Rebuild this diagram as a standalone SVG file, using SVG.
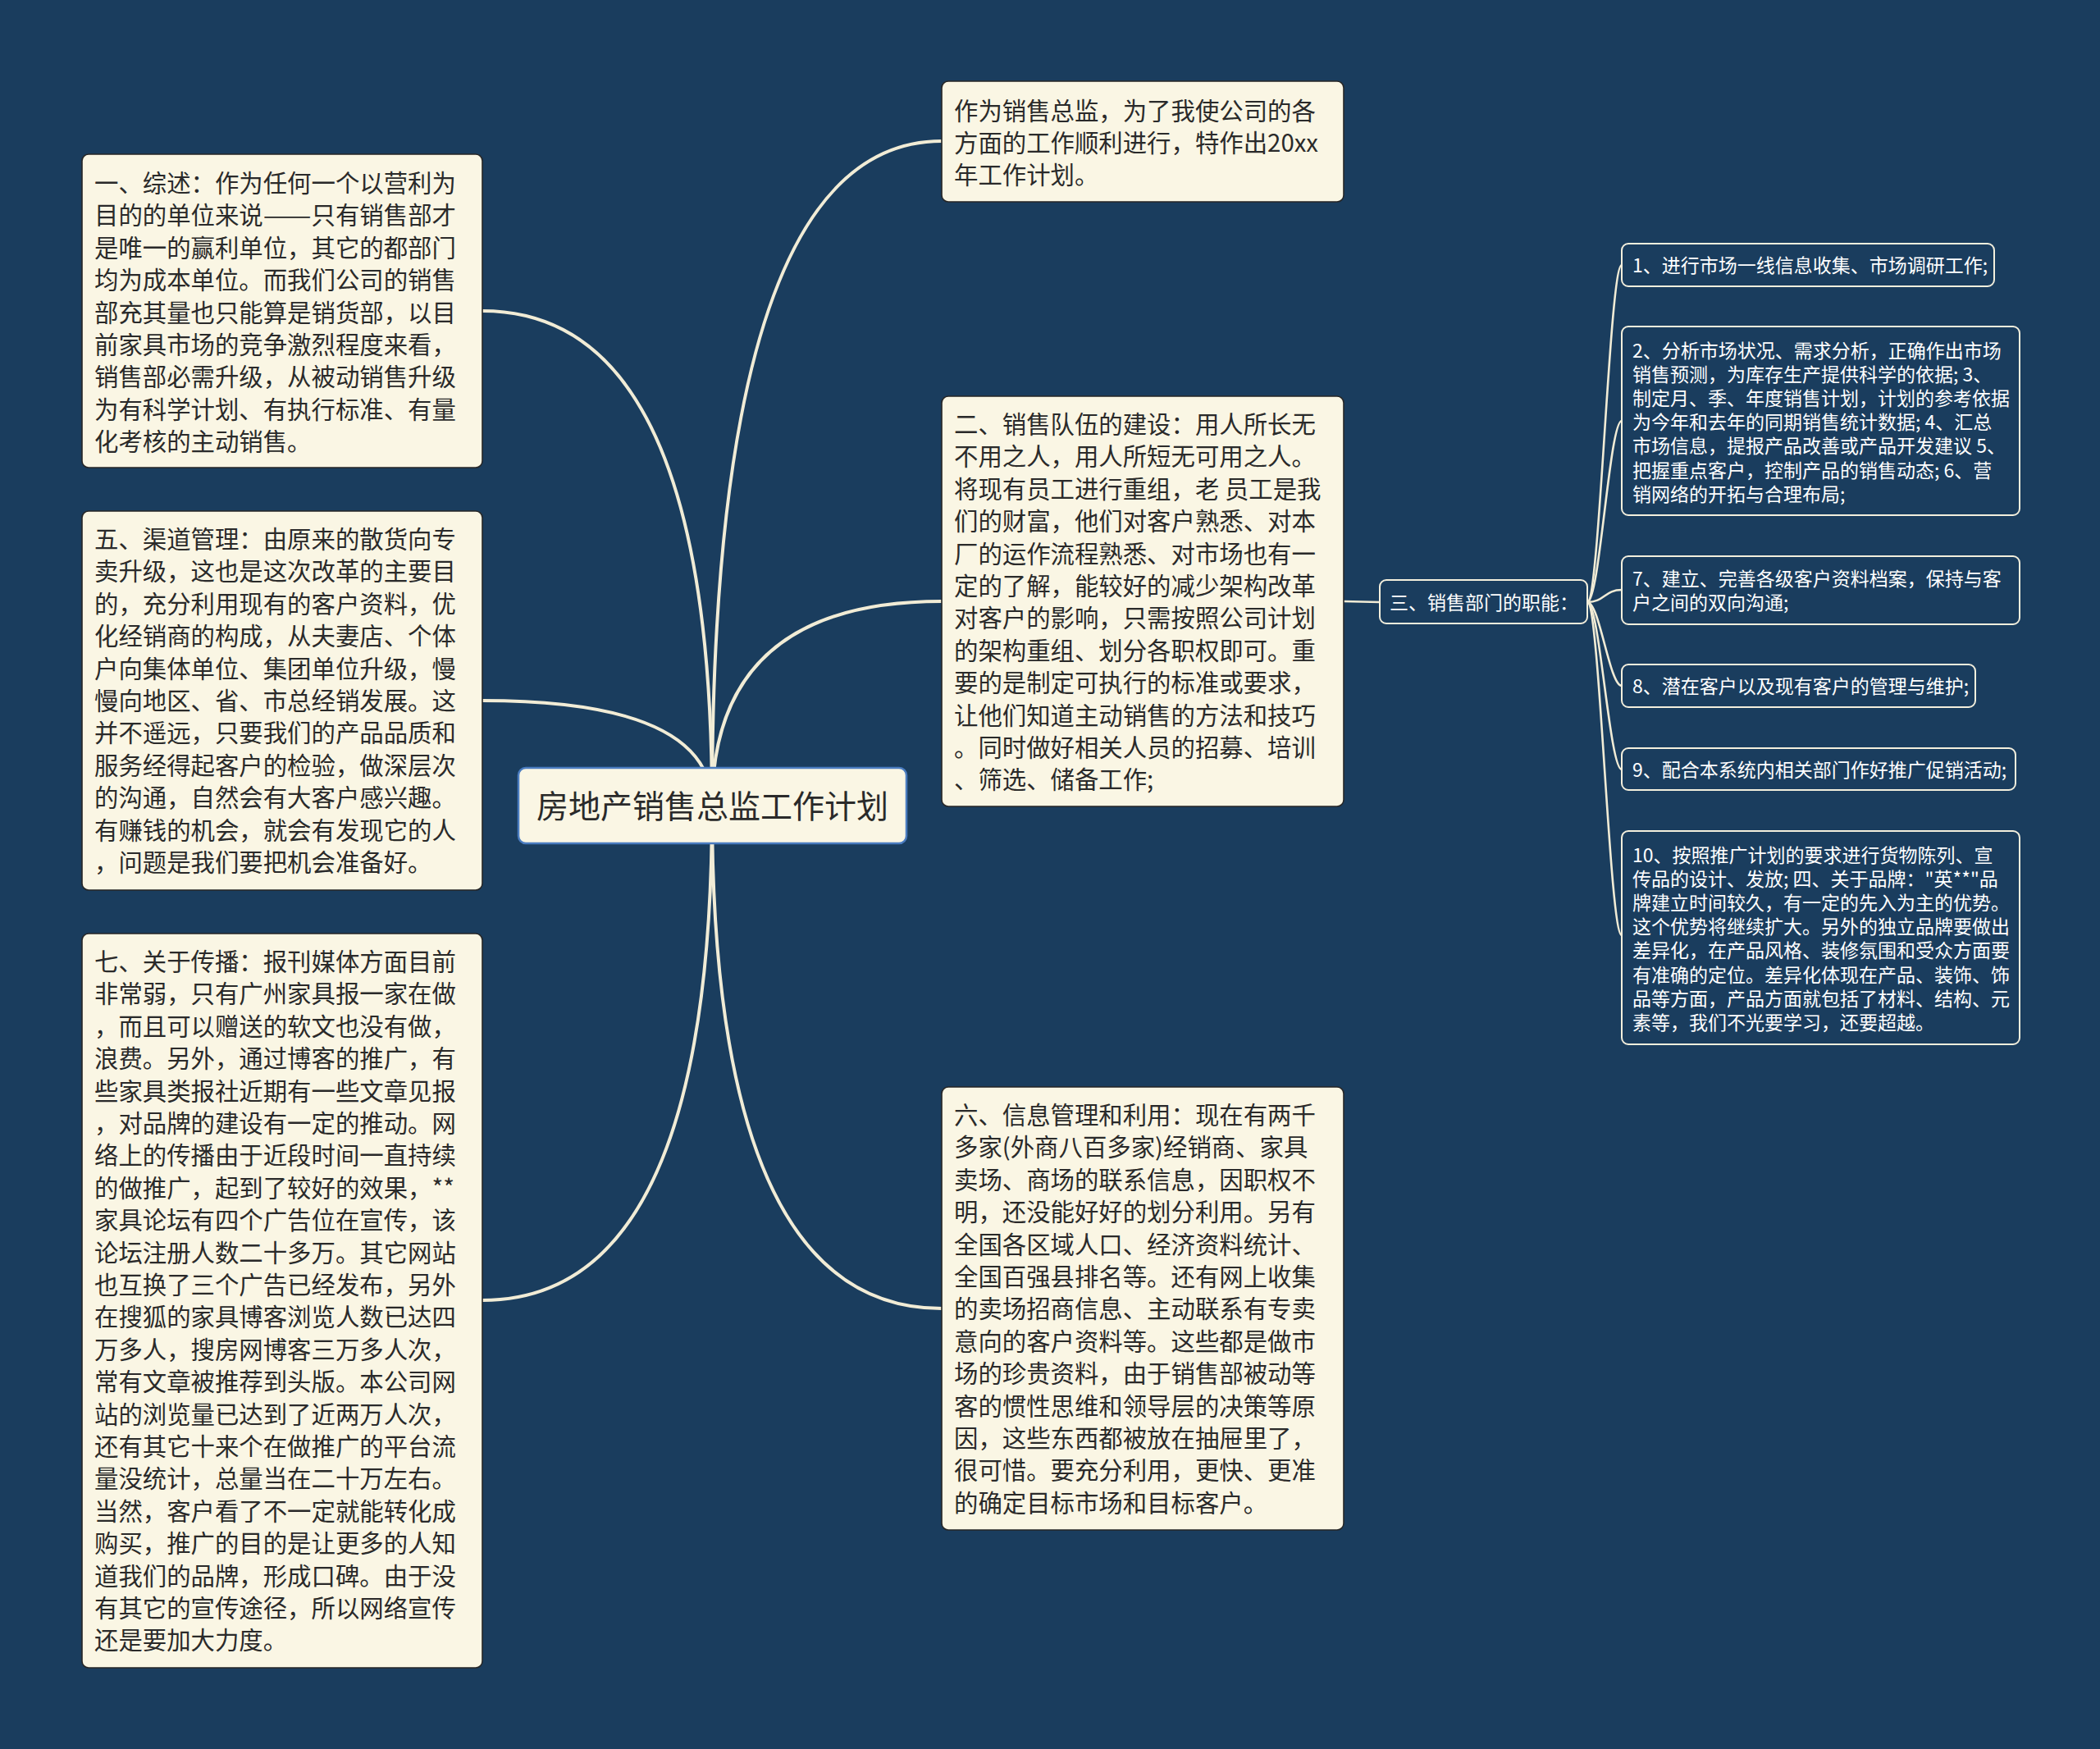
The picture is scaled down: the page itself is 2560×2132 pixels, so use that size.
<svg xmlns="http://www.w3.org/2000/svg" width="2560" height="2132" viewBox="0 0 2560 2132">
<style>
.bg{fill:#1a3d5e}
.card{fill:#faf6e4;stroke:#262626;stroke-width:1.6}
.root{fill:#faf6e4;stroke:#4a7cc0;stroke-width:2.5}
.sub{fill:#1a3d5e;stroke:#f3efdd;stroke-width:2}
.t{font-family:"Noto Sans CJK SC","Noto Sans CJK TC",sans-serif;font-size:29.4px;fill:#2a2a2a}
.tr{font-family:"Noto Sans CJK SC","Noto Sans CJK TC",sans-serif;font-size:39px;fill:#2a2a2a}
.ts{font-family:"Noto Sans CJK SC","Noto Sans CJK TC",sans-serif;font-size:23px;fill:#ffffff}
.c{fill:none;stroke:#f1ecd6;stroke-width:4;stroke-linecap:round}
.cs{fill:none;stroke:#f1ecd6;stroke-width:2.6;stroke-linecap:round}
</style>
<rect class="bg" x="0" y="0" width="2560" height="2132"/>
<g id="connectors">
<path class="c" d="M868,982 Q868,172 1148,172"/>
<path class="c" d="M868,982 Q868,733 1148,733"/>
<path class="c" d="M868,982 Q868,1595 1148,1595"/>
<path class="c" d="M868,982 Q868,379 588,379"/>
<path class="c" d="M868,982 Q868,854 588,854"/>
<path class="c" d="M868,982 Q868,1585 588,1585"/>
<path class="cs" d="M1638,733 L1682,734"/>
<path class="cs" d="M1935,734 C1950,734 1962,323 1977,323"/>
<path class="cs" d="M1935,734 C1950,734 1962,513 1977,513"/>
<path class="cs" d="M1935,734 C1956,734 1956,719 1977,719"/>
<path class="cs" d="M1935,734 C1950,734 1962,836 1977,836"/>
<path class="cs" d="M1935,734 C1950,734 1962,938 1977,938"/>
<path class="cs" d="M1935,734 C1950,734 1962,1140 1977,1140"/>
</g>
<g id="root">
<rect class="root" x="632" y="936" width="473" height="92" rx="9"/>
<text class="tr" x="868.5" y="996.5" text-anchor="middle">房地产销售总监工作计划</text>
</g>
<g id="node-intro">
<rect class="card" x="1148" y="99" width="490" height="147" rx="8"/>
<text class="t"><tspan x="1163" y="146">作为销售总监，为了我使公司的各</tspan><tspan x="1163" y="185">方面的工作顺利进行，特作出20xx</tspan><tspan x="1163" y="224">年工作计划。</tspan></text>
</g>
<g id="node-2">
<rect class="card" x="1148" y="483" width="490" height="500" rx="8"/>
<text class="t"><tspan x="1163" y="528">二、销售队伍的建设：用人所长无</tspan><tspan x="1163" y="567.4">不用之人，用人所短无可用之人。</tspan><tspan x="1163" y="606.8">将现有员工进行重组，老 员工是我</tspan><tspan x="1163" y="646.2">们的财富，他们对客户熟悉、对本</tspan><tspan x="1163" y="685.6">厂的运作流程熟悉、对市场也有一</tspan><tspan x="1163" y="725">定的了解，能较好的减少架构改革</tspan><tspan x="1163" y="764.4">对客户的影响，只需按照公司计划</tspan><tspan x="1163" y="803.8">的架构重组、划分各职权即可。重</tspan><tspan x="1163" y="843.2">要的是制定可执行的标准或要求，</tspan><tspan x="1163" y="882.6">让他们知道主动销售的方法和技巧</tspan><tspan x="1163" y="922">。同时做好相关人员的招募、培训</tspan><tspan x="1163" y="961.4">、筛选、储备工作;</tspan></text>
</g>
<g id="node-6">
<rect class="card" x="1148" y="1325" width="490" height="540" rx="8"/>
<text class="t"><tspan x="1163" y="1370">六、信息管理和利用：现在有两千</tspan><tspan x="1163" y="1409.4">多家(外商八百多家)经销商、家具</tspan><tspan x="1163" y="1448.8">卖场、商场的联系信息，因职权不</tspan><tspan x="1163" y="1488.2">明，还没能好好的划分利用。另有</tspan><tspan x="1163" y="1527.6">全国各区域人口、经济资料统计、</tspan><tspan x="1163" y="1567">全国百强县排名等。还有网上收集</tspan><tspan x="1163" y="1606.4">的卖场招商信息、主动联系有专卖</tspan><tspan x="1163" y="1645.8">意向的客户资料等。这些都是做市</tspan><tspan x="1163" y="1685.2">场的珍贵资料，由于销售部被动等</tspan><tspan x="1163" y="1724.6">客的惯性思维和领导层的决策等原</tspan><tspan x="1163" y="1764">因，这些东西都被放在抽屉里了，</tspan><tspan x="1163" y="1803.4">很可惜。要充分利用，更快、更准</tspan><tspan x="1163" y="1842.8">的确定目标市场和目标客户。</tspan></text>
</g>
<g id="node-1">
<rect class="card" x="100" y="188" width="488" height="382" rx="8"/>
<text class="t"><tspan x="115" y="234">一、综述：作为任何一个以营利为</tspan><tspan x="115" y="273.4">目的的单位来说</tspan><tspan x="320.8" y="273.4" textLength="58.8" lengthAdjust="spacingAndGlyphs">——</tspan><tspan x="379.6" y="273.4">只有销售部才</tspan><tspan x="115" y="312.8">是唯一的赢利单位，其它的都部门</tspan><tspan x="115" y="352.2">均为成本单位。而我们公司的销售</tspan><tspan x="115" y="391.6">部充其量也只能算是销货部，以目</tspan><tspan x="115" y="431">前家具市场的竞争激烈程度来看，</tspan><tspan x="115" y="470.4">销售部必需升级，从被动销售升级</tspan><tspan x="115" y="509.8">为有科学计划、有执行标准、有量</tspan><tspan x="115" y="549.2">化考核的主动销售。</tspan></text>
</g>
<g id="node-5">
<rect class="card" x="100" y="623" width="488" height="462" rx="8"/>
<text class="t"><tspan x="115" y="668">五、渠道管理：由原来的散货向专</tspan><tspan x="115" y="707.4">卖升级，这也是这次改革的主要目</tspan><tspan x="115" y="746.8">的，充分利用现有的客户资料，优</tspan><tspan x="115" y="786.2">化经销商的构成，从夫妻店、个体</tspan><tspan x="115" y="825.6">户向集体单位、集团单位升级，慢</tspan><tspan x="115" y="865">慢向地区、省、市总经销发展。这</tspan><tspan x="115" y="904.4">并不遥远，只要我们的产品品质和</tspan><tspan x="115" y="943.8">服务经得起客户的检验，做深层次</tspan><tspan x="115" y="983.2">的沟通，自然会有大客户感兴趣。</tspan><tspan x="115" y="1022.6">有赚钱的机会，就会有发现它的人</tspan><tspan x="115" y="1062">，问题是我们要把机会准备好。</tspan></text>
</g>
<g id="node-7">
<rect class="card" x="100" y="1138" width="488" height="895" rx="8"/>
<text class="t"><tspan x="115" y="1183">七、关于传播：报刊媒体方面目前</tspan><tspan x="115" y="1222.4">非常弱，只有广州家具报一家在做</tspan><tspan x="115" y="1261.8">，而且可以赠送的软文也没有做，</tspan><tspan x="115" y="1301.2">浪费。另外，通过博客的推广，有</tspan><tspan x="115" y="1340.6">些家具类报社近期有一些文章见报</tspan><tspan x="115" y="1380">，对品牌的建设有一定的推动。网</tspan><tspan x="115" y="1419.4">络上的传播由于近段时间一直持续</tspan><tspan x="115" y="1458.8">的做推广，起到了较好的效果，**</tspan><tspan x="115" y="1498.2">家具论坛有四个广告位在宣传，该</tspan><tspan x="115" y="1537.6">论坛注册人数二十多万。其它网站</tspan><tspan x="115" y="1577">也互换了三个广告已经发布，另外</tspan><tspan x="115" y="1616.4">在搜狐的家具博客浏览人数已达四</tspan><tspan x="115" y="1655.8">万多人，搜房网博客三万多人次，</tspan><tspan x="115" y="1695.2">常有文章被推荐到头版。本公司网</tspan><tspan x="115" y="1734.6">站的浏览量已达到了近两万人次，</tspan><tspan x="115" y="1774">还有其它十来个在做推广的平台流</tspan><tspan x="115" y="1813.4">量没统计，总量当在二十万左右。</tspan><tspan x="115" y="1852.8">当然，客户看了不一定就能转化成</tspan><tspan x="115" y="1892.2">购买，推广的目的是让更多的人知</tspan><tspan x="115" y="1931.6">道我们的品牌，形成口碑。由于没</tspan><tspan x="115" y="1971">有其它的宣传途径，所以网络宣传</tspan><tspan x="115" y="2010.4">还是要加大力度。</tspan></text>
</g>
<g id="node-3">
<rect class="sub" x="1682" y="707" width="253" height="53" rx="8"/>
<text class="ts" x="1694" y="743">三、销售部门的职能：</text>
</g>
<g id="node-r1">
<rect class="sub" x="1977" y="297" width="454" height="52" rx="8"/>
<text class="ts" x="1990" y="331.5">1、进行市场一线信息收集、市场调研工作;</text>
</g>
<g id="node-r2">
<rect class="sub" x="1977" y="398" width="485" height="230" rx="8"/>
<text class="ts"><tspan x="1990" y="435.5">2、分析市场状况、需求分析，正确作出市场</tspan><tspan x="1990" y="464.7">销售预测，为库存生产提供科学的依据; 3、</tspan><tspan x="1990" y="493.9">制定月、季、年度销售计划，计划的参考依据</tspan><tspan x="1990" y="523.1">为今年和去年的同期销售统计数据; 4、汇总</tspan><tspan x="1990" y="552.3">市场信息，提报产品改善或产品开发建议 5、</tspan><tspan x="1990" y="581.5">把握重点客户，控制产品的销售动态; 6、营</tspan><tspan x="1990" y="610.7">销网络的开拓与合理布局;</tspan></text>
</g>
<g id="node-r7">
<rect class="sub" x="1977" y="678" width="485" height="83" rx="8"/>
<text class="ts"><tspan x="1990" y="713.5">7、建立、完善各级客户资料档案，保持与客</tspan><tspan x="1990" y="743">户之间的双向沟通;</tspan></text>
</g>
<g id="node-r8">
<rect class="sub" x="1977" y="810" width="431" height="52" rx="8"/>
<text class="ts" x="1990" y="845">8、潜在客户以及现有客户的管理与维护;</text>
</g>
<g id="node-r9">
<rect class="sub" x="1977" y="912" width="480" height="51" rx="8"/>
<text class="ts" x="1990" y="946.5">9、配合本系统内相关部门作好推广促销活动;</text>
</g>
<g id="node-r10">
<rect class="sub" x="1977" y="1013" width="485" height="260" rx="8"/>
<text class="ts"><tspan x="1990" y="1050.5">10、按照推广计划的要求进行货物陈列、宣</tspan><tspan x="1990" y="1079.7">传品的设计、发放; 四、关于品牌："英**"品</tspan><tspan x="1990" y="1108.9">牌建立时间较久，有一定的先入为主的优势。</tspan><tspan x="1990" y="1138.1">这个优势将继续扩大。另外的独立品牌要做出</tspan><tspan x="1990" y="1167.3">差异化，在产品风格、装修氛围和受众方面要</tspan><tspan x="1990" y="1196.5">有准确的定位。差异化体现在产品、装饰、饰</tspan><tspan x="1990" y="1225.7">品等方面，产品方面就包括了材料、结构、元</tspan><tspan x="1990" y="1254.9">素等，我们不光要学习，还要超越。</tspan></text>
</g>
</svg>
